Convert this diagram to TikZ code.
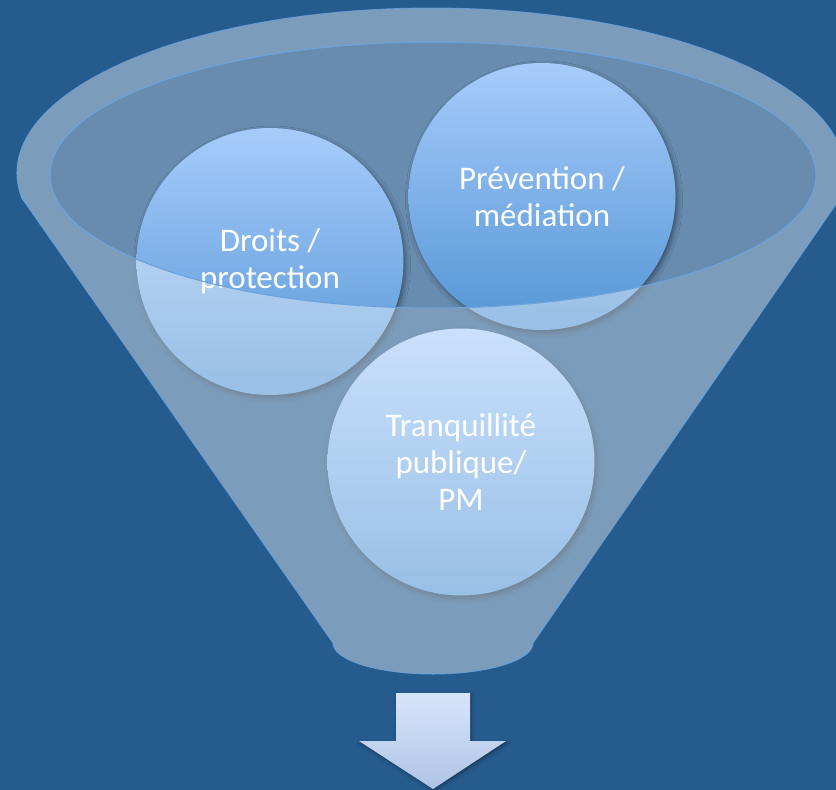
\documentclass[tikz,border=0pt]{standalone}
\usepackage{fontspec}
\setmainfont{Carlito}
\usetikzlibrary{shadows.blur}
\definecolor{bgblue}{RGB}{38,91,142}
\definecolor{circtop}{RGB}{167,204,251}
\definecolor{circbot}{RGB}{84,149,213}
\definecolor{rimline}{RGB}{108,163,220}
\definecolor{arrtop}{RGB}{215,229,251}
\definecolor{arrbot}{RGB}{174,196,228}
\begin{document}
\begin{tikzpicture}[x=1pt,y=-1pt,
  bubble/.style={circle, minimum size=267pt, inner sep=0pt, top color=circtop, bottom color=circbot,
    text=white, align=center, font=\fontsize{33}{37}\selectfont,
    blur shadow={shadow xshift=2pt, shadow yshift=-3pt, shadow blur radius=5pt, shadow opacity=45}},
  wall/.style={fill=white, fill opacity=0.4, even odd rule},
  rimback/.style={fill=white, fill opacity=0.3},
  rimedge/.style={draw=rimline, line width=1.1pt},
  walledge/.style={draw=rimline, draw opacity=0.8, line width=1pt},
  downarrow/.style={top color=arrtop, bottom color=arrbot,
    blur shadow={shadow xshift=1.5pt, shadow yshift=-2pt, shadow blur radius=3pt, shadow opacity=35}}
]
\fill[bgblue] (0,0) rectangle (836,790);
\useasboundingbox (0,0) rectangle (836,790);
\begin{scope}
\clip (0,0) rectangle (836,790);
% inside of the funnel, seen through the rim
\path[rimback] (433,175) ellipse [x radius=383, y radius=133];
% circles
\node[bubble] (droits) at (270,261.5) {Droits /\\protection};
\node[bubble] (prev) at (542,196.5) {Prévention /\\médiation};
\node[bubble] (tranq) at (461,462) {Tranquillité\\publique/\\PM};
% funnel wall with the rim opening
\path[wall] (21.8,198) arc[start angle=171.3, end angle=368.7, x radius=414, y radius=165]
  -- (533,643) arc[start angle=0, end angle=180, x radius=100, y radius=31] -- cycle
  (433,175) ellipse [x radius=383, y radius=133];
\path[walledge] (21.8,198) arc[start angle=171.3, end angle=368.7, x radius=414, y radius=165]
  -- (533,643) arc[start angle=0, end angle=180, x radius=100, y radius=31] -- cycle;
\path[rimedge] (433,175) ellipse [x radius=383, y radius=133];
\end{scope}
% arrow
\path[downarrow] (396,693) -- (470,693) -- (470,741) -- (506,741) -- (433,789) -- (359,741) -- (396,741) -- cycle;
\end{tikzpicture}
\end{document}
